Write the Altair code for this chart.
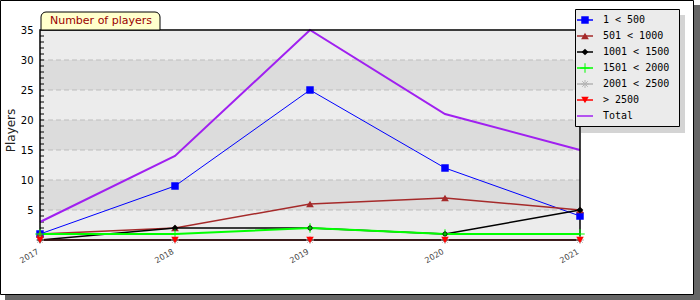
import altair as alt
import pandas as pd

# ---------------- data ----------------
years = [2017, 2018, 2019, 2020, 2021]
series_names = ["1 < 500", "501 < 1000", "1001 < 1500", "1501 < 2000",
                "2001 < 2500", "> 2500", "Total"]
s_1_500 = [1, 9, 25, 12, 4]
s_501_1000 = [1, 2, 6, 7, 5]
s_1001_1500 = [0, 2, 2, 1, 5]
s_1501_2000 = [1, 1, 2, 1, 1]
s_2001_2500 = [0, 0, 0, 0, 0]
s_2500_plus = [0, 0, 0, 0, 0]
s_total = [3, 14, 35, 21, 15]
y_tick_values = [5, 10, 15, 20, 25, 30, 35]
grid_values = [5, 10, 15, 20, 25, 30]
band_starts = [0, 5, 10, 15, 20, 25, 30]
band_ends = [5, 10, 15, 20, 25, 30, 35]
minor_ticks = list(range(1, 35))
chart_title = "Number of players"
y_title = "Players"

series_values = [s_1_500, s_501_1000, s_1001_1500, s_1501_2000,
                 s_2001_2500, s_2500_plus, s_total]

# ---------------- styles ----------------
CROSS = "M-1,0H1M0,-1V1"
STAR = "M-1,0H1M0,-1V1M-0.7,-0.7L0.7,0.7M-0.7,0.7L0.7,-0.7"
colors = ["#0000ff", "#a52a2a", "#000000", "#00ff00", "#b4b4b4", "#ff0000", "#a020f0"]
shapes = ["square", "triangle-up", "diamond", CROSS, STAR, "triangle-down", None]
filled = [True, True, True, False, False, True, None]
sizes = [56, 60, 45, 90, 64, 56, 0]
widths = [1, 1.5, 1.5, 2, 1, 1, 2]
band_colors = ["#ececec", "#dcdcdc", "#ececec", "#dcdcdc", "#ececec", "#dcdcdc", "#ececec"]

W, H = 540, 210
one = pd.DataFrame({"d": [0]})

xscale = alt.Scale(domain=[2017, 2021], nice=False, zero=False)
yscale = alt.Scale(domain=[0, 35], nice=False, zero=False)
xaxis = alt.Axis(values=years, format="d", labelAngle=-30, labelAlign="right",
                 labelBaseline="middle", labelPadding=11, labelOffset=-2,
                 labelFontSize=8, labelColor="#444444", labelFont="DejaVu Sans",
                 domain=False, ticks=False, grid=False, title=None, zindex=1)
X = alt.X("year:Q", scale=xscale, axis=xaxis, title=None)

# ---------------- decorations ----------------
shadow = alt.Chart(one).mark_rect(fill="#666666").encode(
    x=alt.value(-35), x2=alt.value(660), y=alt.value(-25), y2=alt.value(270))
frame = alt.Chart(one).mark_rect(fill="white", stroke="black", strokeWidth=1).encode(
    x=alt.value(-39.5), x2=alt.value(653.5), y=alt.value(-29.5), y2=alt.value(264.5))

bands_df = pd.DataFrame({"y0": band_starts, "y1": band_ends, "c": band_colors})
bands = alt.Chart(bands_df).mark_rect().encode(
    x=alt.value(0), x2=alt.value(W),
    y=alt.Y("y0:Q", scale=yscale, title=y_title,
            axis=alt.Axis(values=y_tick_values, labelFontSize=10, labelFont="DejaVu Sans",
                          labelColor="#000000", labelPadding=7, ticks=False, domain=False,
                          grid=False, title=y_title, titleFontSize=12, titleFont="DejaVu Sans",
                          titleFontWeight="normal", titleColor="#222222", titleX=-30,
                          titleY=100, titleAngle=270, titleBaseline="middle",
                          titleAlign="center", zindex=1)),
    y2="y1:Q",
    fill=alt.Fill("c:N", scale=None))

grid = alt.Chart(pd.DataFrame({"v": grid_values})).mark_rule(
    color="#bdbdbd", strokeDash=[5, 3], strokeWidth=1).encode(
    x=alt.value(0), x2=alt.value(W), y=alt.Y("v:Q", scale=yscale, axis=None))

ticks = alt.Chart(pd.DataFrame({"v": minor_ticks})).mark_rule(
    color="black", strokeWidth=1).encode(
    x=alt.value(0), x2=alt.value(4), y=alt.Y("v:Q", scale=yscale, axis=None))

border = alt.Chart(one).mark_rect(filled=False, stroke="black", strokeWidth=1.5).encode(
    x=alt.value(0), x2=alt.value(W), y=alt.value(0), y2=alt.value(H))

# ---------------- series ----------------
line_layers = []
point_layers = []
for i, name in enumerate(series_names):
    df = pd.DataFrame({"year": years, "value": series_values[i], "series": name})
    Y = alt.Y("value:Q", scale=yscale, axis=None)
    line_layers.append(alt.Chart(df).mark_line(color=colors[i], strokeWidth=widths[i]).encode(
        x=X, y=Y))
    if shapes[i] is not None:
        if filled[i]:
            mk = alt.Chart(df).mark_point(shape=shapes[i], filled=True, size=sizes[i],
                                          color=colors[i], opacity=1)
        else:
            mk = alt.Chart(df).mark_point(shape=shapes[i], filled=False, size=sizes[i],
                                          color=colors[i], opacity=1, strokeWidth=1)
        point_layers.append(mk.encode(x=X, y=Y))

# ---------------- title tab ----------------
tab = alt.Chart(one).mark_rect(fill="#ffffcc", stroke="black", strokeWidth=1,
                               cornerRadiusTopLeft=5, cornerRadiusTopRight=5).encode(
    x=alt.value(1), x2=alt.value(120), y=alt.value(-18), y2=alt.value(0))
tab_text = alt.Chart(one).mark_text(text=chart_title, color="#990000", font="DejaVu Sans",
                                    fontSize=11, align="center", baseline="middle").encode(
    x=alt.value(61), y=alt.value(-9))

# ---------------- legend ----------------
leg_df = pd.DataFrame({
    "label": series_names,
    "order": list(range(len(series_names))),
    "color": colors,
    "shape": [s if s is not None else "circle" for s in shapes],
    "size": sizes,
    "filled": [bool(f) if f is not None else False for f in filled],
    "has_marker": [s is not None for s in shapes],
})
LY = alt.Y("order:Q", scale=alt.Scale(domain=[0, 6], range=[-10, 86]), axis=None)

leg_shadow = alt.Chart(one).mark_rect(fill="#d4d4d4").encode(
    x=alt.value(541), x2=alt.value(645), y=alt.value(-15), y2=alt.value(103))
leg_box = alt.Chart(one).mark_rect(fill="#ebebeb", stroke="black", strokeWidth=1).encode(
    x=alt.value(535.5), x2=alt.value(639.5), y=alt.value(-20.5), y2=alt.value(96.5))
leg_lines = alt.Chart(leg_df).mark_rule(strokeWidth=1.5).encode(
    x=alt.value(537), x2=alt.value(553), y=LY, color=alt.Color("color:N", scale=None))
leg_filled = alt.Chart(leg_df[leg_df["has_marker"] & leg_df["filled"]]).mark_point(
    filled=True, opacity=1).encode(
    x=alt.value(545), y=LY, color=alt.Color("color:N", scale=None),
    shape=alt.Shape("shape:N", scale=None), size=alt.Size("size:Q", scale=None))
leg_open = alt.Chart(leg_df[leg_df["has_marker"] & ~leg_df["filled"]]).mark_point(
    filled=False, opacity=1, strokeWidth=1).encode(
    x=alt.value(545), y=LY, color=alt.Color("color:N", scale=None),
    shape=alt.Shape("shape:N", scale=None), size=alt.Size("size:Q", scale=None))
leg_text = alt.Chart(leg_df).mark_text(align="left", baseline="middle", font="DejaVu Sans Mono",
                                       fontSize=10, color="black").encode(
    x=alt.value(563), y=LY, text="label:N")

chart = alt.layer(
    shadow, frame, bands, grid, ticks, *line_layers, border, *point_layers,
    tab, tab_text, leg_shadow, leg_box, leg_lines, leg_filled, leg_open, leg_text
).resolve_scale(y="independent").properties(
    width=W, height=H, autosize="none",
    padding={"left": 40, "top": 30, "right": 120, "bottom": 60},
    background="white"
).configure_view(stroke=None)

chart.save("out.html", embed_options={"renderer": "svg", "actions": False})
